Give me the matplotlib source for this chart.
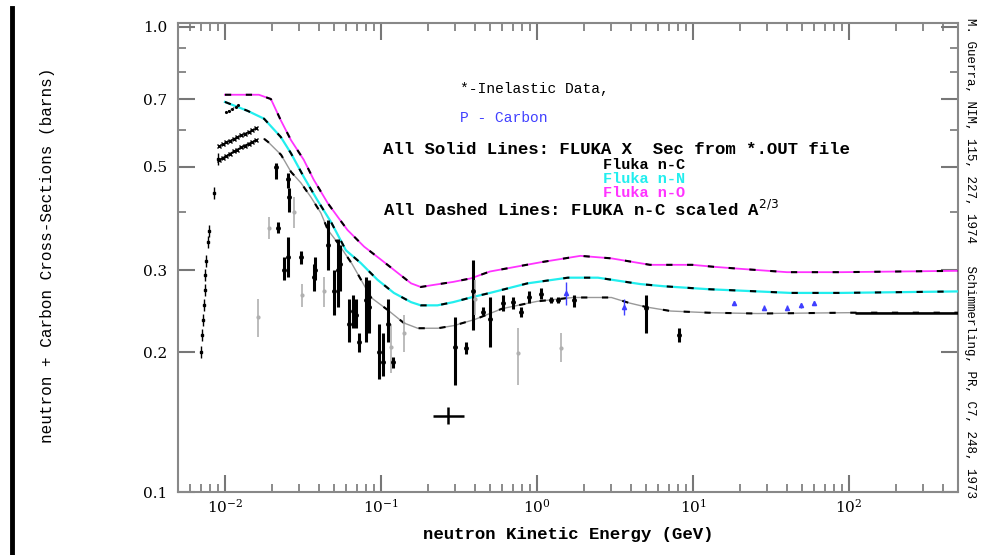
import matplotlib
matplotlib.use("Agg")
import matplotlib.pyplot as plt
from matplotlib.lines import Line2D
from matplotlib.ticker import FixedLocator, NullFormatter, FixedFormatter

# ---------------- data ----------------
# FLUKA n-O (magenta)
E_O = [0.01, 0.0165, 0.0197, 0.0228, 0.0265, 0.032, 0.037, 0.0456, 0.053, 0.061, 0.078, 0.1, 0.128,
       0.156, 0.18, 0.22, 0.29, 0.377, 0.5, 1.06, 1.9, 3.0, 5.3, 9.9, 13.6, 20, 40, 90, 500]
v_O = [0.715, 0.715, 0.70, 0.63, 0.571, 0.518, 0.47, 0.418, 0.39, 0.366, 0.337, 0.316, 0.296,
       0.281, 0.276, 0.279, 0.283, 0.288, 0.298, 0.312, 0.322, 0.318, 0.308, 0.308, 0.305, 0.302, 0.297, 0.297, 0.299]
# FLUKA n-N (cyan)
E_N = [0.01, 0.014, 0.0178, 0.0228, 0.0265, 0.032, 0.039, 0.048, 0.0596, 0.074, 0.095, 0.121, 0.156,
       0.18, 0.23, 0.29, 0.377, 0.5, 0.87, 1.58, 2.46, 4.6, 6.5, 12.5, 26, 42, 89, 500]
v_N = [0.69, 0.66, 0.635, 0.58, 0.535, 0.476, 0.425, 0.38, 0.331, 0.311, 0.286, 0.268, 0.256,
       0.252, 0.252, 0.256, 0.262, 0.268, 0.281, 0.289, 0.289, 0.28, 0.277, 0.273, 0.27, 0.268, 0.268, 0.27]
# FLUKA n-C (black)
E_C = [0.0178, 0.0189, 0.0229, 0.0265, 0.0307, 0.0355, 0.0412, 0.0457, 0.053, 0.065, 0.075, 0.0863,
       0.111, 0.14, 0.172, 0.232, 0.294, 0.4, 0.6, 1.0, 1.7, 3.0, 3.9, 5.0, 7.2, 12.5, 26, 100, 500]
v_C = [0.575, 0.566, 0.531, 0.488, 0.462, 0.431, 0.398, 0.366, 0.343, 0.31, 0.285, 0.262,
       0.246, 0.231, 0.225, 0.225, 0.228, 0.235, 0.248, 0.257, 0.262, 0.262, 0.255, 0.25, 0.245, 0.243, 0.242, 0.243, 0.243]

# low-energy rising data series
lo_E = [0.0070, 0.0071, 0.0072, 0.0073, 0.0074, 0.0075, 0.0076, 0.0078, 0.0079, 0.0085, 0.0090]
lo_v = [0.200, 0.218, 0.234, 0.252, 0.272, 0.293, 0.314, 0.345, 0.365, 0.44, 0.52]
# dense cluster, two rows
cl_E = [0.0092, 0.0097, 0.0102, 0.0108, 0.0114, 0.0120, 0.0127, 0.0134, 0.0142, 0.0150, 0.0158]
cl_v1 = [0.518, 0.523, 0.528, 0.534, 0.54, 0.545, 0.551, 0.556, 0.561, 0.566, 0.571]
cl_v2 = [0.555, 0.56, 0.565, 0.57, 0.575, 0.58, 0.585, 0.59, 0.595, 0.60, 0.605]
top_E = [0.0101, 0.0106, 0.0111, 0.0117, 0.0122]
top_v = [0.655, 0.661, 0.667, 0.673, 0.68]

# black data points with error bars
bk_E = [0.0212, 0.0253, 0.0258, 0.0218, 0.0253, 0.0307, 0.038, 0.024, 0.037, 0.0457, 0.050, 0.053,
        0.055, 0.062, 0.066, 0.069, 0.072, 0.080, 0.084, 0.097, 0.103, 0.111, 0.12, 0.30, 0.35,
        0.39, 0.45, 0.50, 0.61, 0.70, 0.79, 0.89, 1.06, 1.23, 1.36, 1.74, 4.98, 8.1]
bk_v = [0.50, 0.47, 0.43, 0.37, 0.32, 0.32, 0.30, 0.30, 0.29, 0.34, 0.27, 0.30,
        0.31, 0.23, 0.245, 0.24, 0.21, 0.259, 0.25, 0.20, 0.19, 0.23, 0.19, 0.205, 0.204,
        0.27, 0.244, 0.235, 0.255, 0.256, 0.244, 0.262, 0.267, 0.259, 0.259, 0.259, 0.249, 0.218]
bk_lo = [0.47, 0.45, 0.40, 0.36, 0.29, 0.31, 0.285, 0.285, 0.27, 0.30, 0.24, 0.25,
         0.27, 0.21, 0.225, 0.225, 0.20, 0.21, 0.22, 0.175, 0.178, 0.21, 0.185, 0.17, 0.198,
         0.223, 0.24, 0.205, 0.245, 0.248, 0.238, 0.255, 0.26, 0.255, 0.255, 0.25, 0.22, 0.21]
bk_hi = [0.51, 0.485, 0.45, 0.38, 0.353, 0.33, 0.32, 0.32, 0.31, 0.384, 0.30, 0.35,
         0.34, 0.26, 0.265, 0.26, 0.22, 0.29, 0.285, 0.23, 0.22, 0.26, 0.195, 0.238, 0.21,
         0.315, 0.25, 0.262, 0.265, 0.262, 0.25, 0.27, 0.275, 0.263, 0.263, 0.265, 0.265, 0.225]

# gray (light) data points
gr_E = [0.0163, 0.0192, 0.0277, 0.031, 0.043, 0.116, 0.14, 0.40, 0.76, 1.42]
gr_v = [0.238, 0.37, 0.40, 0.265, 0.27, 0.205, 0.22, 0.26, 0.199, 0.204]
gr_lo = [0.215, 0.35, 0.37, 0.25, 0.25, 0.18, 0.20, 0.24, 0.17, 0.19]
gr_hi = [0.26, 0.39, 0.43, 0.28, 0.29, 0.23, 0.24, 0.285, 0.225, 0.22]

# points with horizontal error bars
hx_E = [0.27, 230]
hx_v = [0.146, 0.243]
hx_lo = [0.215, 110]
hx_hi = [0.34, 500]

# blue p-Carbon points
bl_E = [1.53, 3.6, 18.3, 28.5, 40, 49, 60]
bl_v = [0.268, 0.25, 0.255, 0.249, 0.249, 0.252, 0.255]
bl_lo = [0.252, 0.24, 0.252, 0.246, 0.246, 0.249, 0.252]
bl_hi = [0.283, 0.26, 0.258, 0.252, 0.252, 0.255, 0.258]

y_ticks = [0.1, 0.2, 0.3, 0.5, 0.7, 1.0]
y_labels = ["0.1", "0.2", "0.3", "0.5", "0.7", "1.0"]

# ---------------- figure ----------------
SERIF = "DejaVu Serif"
MONO = "Liberation Mono"
fig = plt.figure(figsize=(9.88, 5.55), dpi=100)
ax = fig.add_axes([178/988, 1-492/555, 780/988, 469/555])
ax.set_xscale("log")
ax.set_yscale("log")
ax.set_xlim(0.005, 500)
ax.set_ylim(0.1, 1.02)

# FLUKA lines (solid colored) with black dashed overlays
ax.plot(E_O, v_O, color="#ff33ff", lw=1.3, zorder=3)
ax.plot(E_N, v_N, color="#22eeee", lw=1.6, zorder=3)
ax.plot(E_C, v_C, color="#999999", lw=1.0, zorder=3)
for E, v in ((E_O, v_O), (E_N, v_N), (E_C, v_C)):
    ax.plot(E, v, color="black", lw=1.5, ls=(0, (3, 7)), zorder=4)

# data
def ebar(E, v, lo, hi, color, lw, ms, marker="o"):
    yerr = [[a - b for a, b in zip(v, lo)], [b - a for a, b in zip(v, hi)]]
    ax.errorbar(E, v, yerr=yerr, fmt=marker, color=color, ms=ms, lw=lw,
                capsize=0, elinewidth=lw, zorder=5)

ebar(bk_E, bk_v, bk_lo, bk_hi, "black", 2.2, 2.5)
ebar(gr_E, gr_v, gr_lo, gr_hi, "#b0b0b0", 1.2, 2.0)
ebar(bl_E, bl_v, bl_lo, bl_hi, "#4040ff", 1.0, 3.0, marker="^")
ax.errorbar(lo_E, lo_v, yerr=[[v * 0.03 for v in lo_v], [v * 0.03 for v in lo_v]],
            fmt="s", color="black", ms=1.8, lw=1.0, capsize=0, zorder=5)
ax.plot(cl_E, cl_v1, marker="x", color="black", ms=3, lw=1.2, ls="-", zorder=5)
ax.plot(cl_E, cl_v2, marker="x", color="black", ms=3, lw=0.8, ls="-", zorder=5)
ax.plot(top_E, top_v, marker=".", color="black", ms=2.5, lw=0.8, ls=":", zorder=5)
xerr = [[a - b for a, b in zip(hx_E, hx_lo)], [b - a for a, b in zip(hx_E, hx_hi)]]
ax.errorbar(hx_E, hx_v, xerr=xerr, yerr=[[0.006, 0.0], [0.006, 0.0]], fmt="none",
            color="black", lw=1.8, capsize=0, zorder=5)

# axes styling
for s in ax.spines.values():
    s.set_color("#888888")
    s.set_linewidth(1.5)
ax.tick_params(which="both", direction="in", top=True, right=True, color="#777777")
ax.tick_params(which="major", length=12, width=1.5)
ax.tick_params(which="minor", length=6, width=1.2)
ax.yaxis.set_major_locator(FixedLocator(y_ticks))
ax.yaxis.set_major_formatter(FixedFormatter(y_labels))
ax.yaxis.set_minor_locator(FixedLocator([0.4, 0.6, 0.8, 0.9]))
ax.yaxis.set_minor_formatter(NullFormatter())
for lab in ax.get_xticklabels() + ax.get_yticklabels():
    lab.set_fontfamily(SERIF)
    lab.set_fontsize(11)
ax.tick_params(axis="y", pad=8)
ax.tick_params(axis="x", pad=4)

ax.set_xlabel("neutron Kinetic Energy (GeV)", fontfamily=MONO, fontsize=12.5,
              fontweight="bold", va="center")
ax.xaxis.set_label_coords((568-178)/780, -(534-492)/469)
ax.set_ylabel("neutron + Carbon Cross-Sections (barns)", fontfamily=MONO, fontsize=11.5, va="center")
ax.yaxis.set_label_coords(-(178-47)/780, (492-255)/469)

# annotation text (figure pixel coords)
def ftxt(x, y, s, color="black", size=11, **kw):
    fig.text(x/988, 1-y/555, s, color=color, fontsize=size, fontfamily=MONO,
             va="center", ha="left", **kw)

ftxt(460, 89, "*-Inelastic Data,", size=10.5)
ftxt(460, 118, "P - Carbon", color="#4040ff", size=10.5)
ftxt(383, 150, "All Solid Lines: FLUKA X  Sec from *.OUT file", size=12.5, fontweight="bold")
ftxt(603, 165, "Fluka n-C", size=11, fontweight="bold")
ftxt(603, 179, "Fluka n-N", color="#22eeee", size=11, fontweight="bold")
ftxt(603, 193, "Fluka n-O", color="#ff33ff", size=11, fontweight="bold")
ftxt(383, 209, "All Dashed Lines: FLUKA n-C scaled A$^{2/3}$", size=12.5, fontweight="bold")

fig.text(970/988, 1-18/555, "M. Guerra, NIM, 115, 227, 1974   Schimmerling, PR, C7, 248, 1973",
         rotation=-90, fontsize=9, fontfamily=MONO, va="top", ha="center")

# thick vertical bar at left of the figure
fig.add_artist(Line2D([12/988, 12/988], [0, 1-8/555], transform=fig.transFigure,
                      color="black", lw=3.5))

fig.savefig("out.png", dpi=100)
